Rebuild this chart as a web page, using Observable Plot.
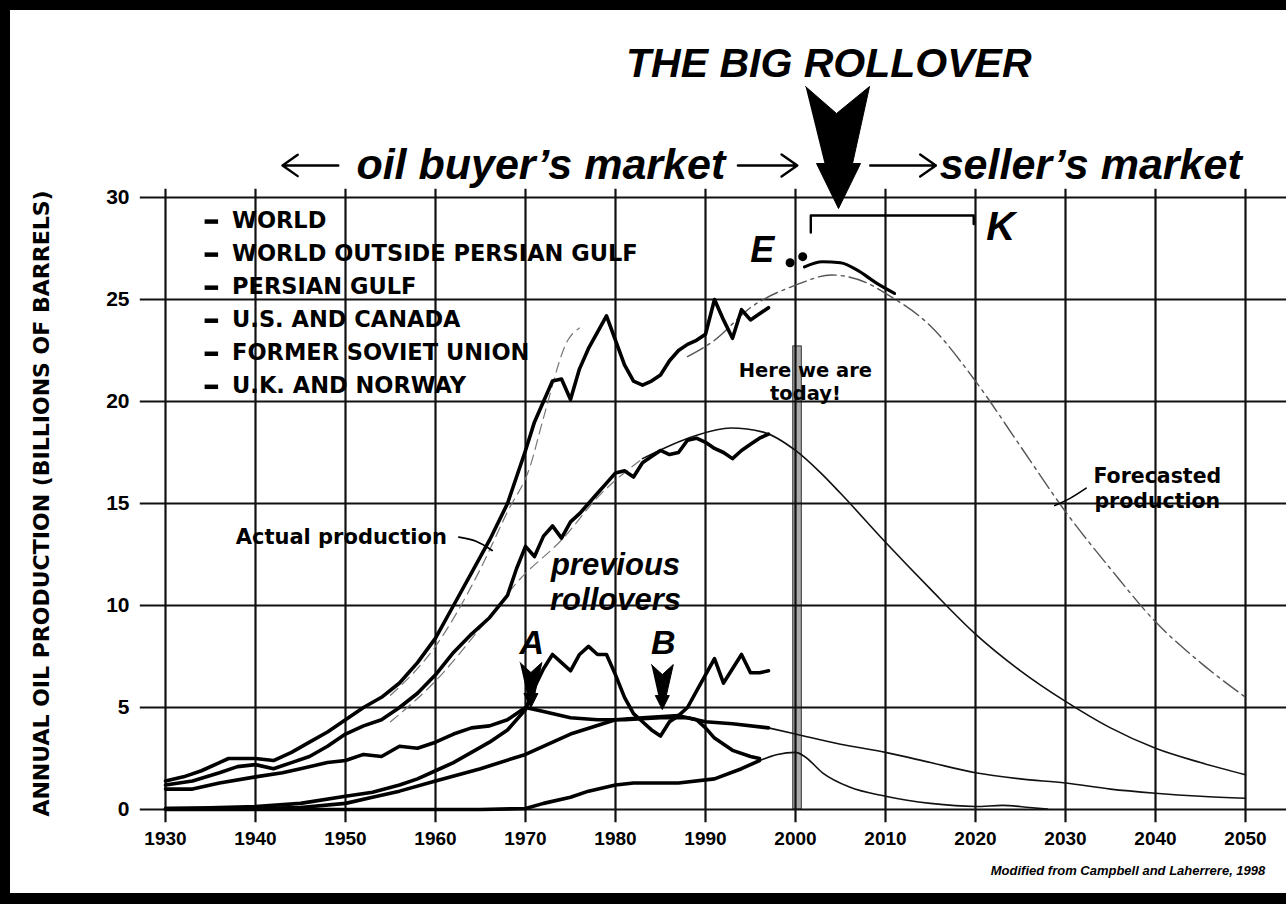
<!DOCTYPE html>
<html><head><meta charset="utf-8">
<script src="https://cdn.jsdelivr.net/npm/d3@7"></script>
<script src="https://cdn.jsdelivr.net/npm/@observablehq/plot@0.6"></script>
<style>
html,body{margin:0;padding:0;background:#fff;}
#frame{position:relative;width:1286px;height:904px;box-sizing:border-box;border-top:10px solid #000;border-left:10px solid #000;border-bottom:11px solid #000;overflow:hidden;background:#fff;}
#frame svg{display:block;}
</style></head><body><div id="frame"></div>
<script>
// ---------- data ----------
const xTicks = [1930,1940,1950,1960,1970,1980,1990,2000,2010,2020,2030,2040,2050];
const yTicks = [0,5,10,15,20,25,30];
const legendLabels = ["WORLD","WORLD OUTSIDE PERSIAN GULF","PERSIAN GULF","U.S. AND CANADA","FORMER SOVIET UNION","U.K. AND NORWAY"];

// actual production (billions of barrels per year)
const world = [[1930,1.4],[1932,1.6],[1934,1.9],[1936,2.3],[1937,2.5],[1940,2.5],[1942,2.4],[1944,2.8],[1946,3.3],[1948,3.8],[1950,4.4],[1952,5.0],[1954,5.5],[1956,6.2],[1958,7.2],[1960,8.4],[1962,10.0],[1964,11.6],[1966,13.2],[1968,15.0],[1970,17.6],[1971,19.0],[1972,20.0],[1973,21.0],[1974,21.1],[1975,20.1],[1976,21.6],[1977,22.6],[1978,23.4],[1979,24.2],[1980,23.0],[1981,21.8],[1982,21.0],[1983,20.8],[1984,21.0],[1985,21.3],[1986,22.0],[1987,22.5],[1988,22.8],[1989,23.0],[1990,23.3],[1991,25.0],[1992,24.0],[1993,23.1],[1994,24.5],[1995,24.0],[1996,24.3],[1997,24.6]];
const worldOutsideGulf = [[1930,1.2],[1933,1.4],[1936,1.8],[1938,2.1],[1940,2.2],[1942,2.0],[1944,2.3],[1946,2.6],[1948,3.1],[1950,3.7],[1952,4.1],[1954,4.4],[1956,5.0],[1958,5.7],[1960,6.6],[1962,7.7],[1964,8.6],[1966,9.4],[1968,10.5],[1969,11.8],[1970,12.9],[1971,12.4],[1972,13.4],[1973,13.9],[1974,13.3],[1975,14.1],[1976,14.5],[1977,15.0],[1978,15.5],[1979,16.0],[1980,16.5],[1981,16.6],[1982,16.3],[1983,17.0],[1984,17.3],[1985,17.6],[1986,17.4],[1987,17.5],[1988,18.1],[1989,18.2],[1990,18.0],[1991,17.7],[1992,17.5],[1993,17.2],[1994,17.6],[1995,17.9],[1996,18.2],[1997,18.4]];
const persianGulf = [[1930,0.05],[1935,0.08],[1940,0.15],[1945,0.3],[1950,0.65],[1953,0.85],[1956,1.2],[1958,1.5],[1960,1.9],[1962,2.3],[1964,2.8],[1966,3.3],[1968,3.9],[1970,4.9],[1971,6.0],[1972,6.9],[1973,7.6],[1974,7.2],[1975,6.8],[1976,7.6],[1977,8.0],[1978,7.6],[1979,7.6],[1980,6.6],[1981,5.5],[1982,4.7],[1983,4.3],[1984,3.9],[1985,3.6],[1986,4.3],[1987,4.6],[1988,5.0],[1989,5.8],[1990,6.6],[1991,7.4],[1992,6.2],[1993,6.9],[1994,7.6],[1995,6.7],[1996,6.7],[1997,6.8]];
const usCanada = [[1930,1.0],[1933,1.0],[1936,1.3],[1940,1.6],[1943,1.8],[1945,2.0],[1948,2.3],[1950,2.4],[1952,2.7],[1954,2.6],[1956,3.1],[1958,3.0],[1960,3.3],[1962,3.7],[1964,4.0],[1966,4.1],[1968,4.4],[1970,5.0],[1972,4.8],[1975,4.5],[1978,4.4],[1981,4.4],[1985,4.5],[1988,4.5],[1990,4.3],[1993,4.2],[1997,4.0]];
const formerSoviet = [[1930,0.05],[1940,0.05],[1945,0.1],[1950,0.3],[1953,0.6],[1956,0.9],[1960,1.4],[1965,2.0],[1970,2.7],[1975,3.7],[1980,4.4],[1983,4.5],[1987,4.6],[1989,4.4],[1990,4.0],[1991,3.5],[1993,2.9],[1995,2.6],[1996,2.5]];
const ukNorway = [[1930,0],[1965,0],[1970,0.05],[1972,0.3],[1975,0.6],[1977,0.9],[1980,1.2],[1982,1.3],[1987,1.3],[1991,1.5],[1994,2.0],[1996,2.4]];

// modelled / forecasted production
const worldFitEarly = [[1955,5.6],[1960,8.0],[1965,11.8],[1968,14.6],[1970.5,16.8],[1972,19.2],[1974.7,23.0],[1976,23.6]];
const worldFit = [[1988,22.2],[1991,23.0],[1995,24.6],[2000,25.7],[2004,26.2],[2008,25.8],[2010,25.3],[2015,23.7],[2020,21.0],[2025,17.8],[2030,14.6],[2035,11.8],[2040,9.2],[2045,7.2],[2050,5.5]];
const worldForecast = [[2001,26.6],[2003,26.85],[2005,26.8],[2007,26.4],[2009,25.8],[2011,25.3]];
const worldOutsideGulfFitEarly = [[1955,4.3],[1960,6.3],[1965,8.9],[1969.4,11.3],[1974.2,13.3],[1978,15.3],[1983,17.2]];
const worldOutsideGulfForecast = [[1983,17.2],[1988.7,18.3],[1992.8,18.7],[1996.4,18.5],[2000,17.6],[2002.8,16.5],[2005,15.5],[2010,13.1],[2015,10.8],[2020,8.6],[2025,6.8],[2030,5.3],[2035,4.0],[2040,3.0],[2045,2.3],[2050,1.7]];
const usCanadaForecast = [[1997,4.0],[2000,3.7],[2005,3.2],[2010,2.8],[2015,2.3],[2020,1.8],[2025,1.5],[2030,1.3],[2035,1.0],[2040,0.8],[2045,0.65],[2050,0.55]];
const ukNorwayForecast = [[1996,2.4],[1998,2.7],[2000,2.8],[2001,2.6],[2003,1.8],[2006,1.1],[2010,0.65],[2015,0.3],[2020,0.15],[2023,0.2],[2026,0.1],[2028,0.02]];
const todayPoints = [[1999.4,26.8],[2000.8,27.1]];

// ---------- layout helpers ----------
const X = d => d[0], Y = d => d[1];
const PXX = 9, PXY = 20.4; // pixels per year / per billion barrels
function shape(tip, offs, id) { return offs.map(([dx, dy]) => ({x: tip[0] + dx / PXX, y: tip[1] + dy / PXY, id})); }
const bigArrowOffs = [[-33,122],[-2,95],[31,122],[14,45],[22,45],[0,0],[-22,45],[-14,45]];
const smallArrowOffs = [[-11,45],[0,35],[11,45],[4,14],[7,14],[0,0],[-7,14],[-4,14]];
const arrows = [
  ...shape([2004.78, 29.46], bigArrowOffs, "big"),
  ...shape([1970.6, 5.0], smallArrowOffs, "A"),
  ...shape([1985.2, 4.9], smallArrowOffs, "B")
];
const legendY = legendLabels.map((d, i) => 28.87 - i * 1.62);

const ARIAL = "Liberation Sans, Arial, sans-serif";
const DEJAVU = "DejaVu Sans, sans-serif";
const thick = {x: X, y: Y, stroke: "#000", strokeWidth: 3.6, strokeLinejoin: "round", strokeLinecap: "round"};
const thin = {x: X, y: Y, stroke: "#111", strokeWidth: 1.6, curve: "monotone-x"};
const faint = {x: X, y: Y, stroke: "#777", strokeWidth: 1.2, strokeDasharray: "10,6", curve: "monotone-x"};

const chart = Plot.plot({
  width: 1276, height: 883,
  marginLeft: 155, marginRight: 41, marginTop: 187, marginBottom: 84,
  x: {domain: [1930, 2050], label: null},
  y: {domain: [0, 30], label: null},
  style: {fontFamily: ARIAL, fontWeight: "bold", background: "#fff", color: "#000"},
  marks: [
    // "here we are today" band
    Plot.rect([0], {x1: 1999.75, x2: 2000.7, y1: 0, y2: 22.7, fill: "#aaa", stroke: "#333", strokeWidth: 1}),
    // grid
    Plot.ruleX(xTicks, {x: d => d, y1: -0.65, y2: 30.4, stroke: "#111", strokeWidth: 2.2}),
    Plot.ruleY(yTicks, {y: d => d, x1: 1927.2, x2: 2060, stroke: "#111", strokeWidth: 2.2}),
    Plot.axisX(xTicks, {tickSize: 0, tickPadding: 22, fontSize: 19, fontWeight: "bold", fontFamily: ARIAL, tickFormat: d => String(d), label: null}),
    Plot.axisY(yTicks, {anchor: "left", tickSize: 0, tickPadding: 36, fontSize: 21, fontWeight: "bold", fontFamily: ARIAL, tickFormat: d => String(d), label: null}),
    // thin model curves
    Plot.line(worldFitEarly, faint),
    Plot.line(worldOutsideGulfFitEarly, faint),
    Plot.line(worldFit, {x: X, y: Y, stroke: "#555", strokeWidth: 1.4, strokeDasharray: "18,5,3,5", curve: "monotone-x"}),
    Plot.line(worldOutsideGulfForecast, thin),
    Plot.line(usCanadaForecast, thin),
    Plot.line(ukNorwayForecast, thin),
    // actual production
    Plot.line(ukNorway, thick),
    Plot.line(formerSoviet, thick),
    Plot.line(usCanada, thick),
    Plot.line(persianGulf, thick),
    Plot.line(worldOutsideGulf, thick),
    Plot.line(world, thick),
    Plot.line(worldForecast, {...thick, strokeWidth: 3.2, curve: "monotone-x"}),
    Plot.dot(todayPoints, {x: X, y: Y, r: 4.5, fill: "#000"}),
    // arrows
    Plot.line(arrows, {x: "x", y: "y", z: "id", fill: "#000", stroke: "#000", strokeWidth: 1, strokeLinejoin: "miter"}),
    // K bracket
    Plot.line([[2001.7, 28.28], [2001.7, 29.12], [2019.8, 29.12], [2019.8, 28.7]], {x: X, y: Y, stroke: "#000", strokeWidth: 2.4}),
    // market arrows
    Plot.arrow([0], {x1: 1949.2, y1: 31.57, x2: 1943.0, y2: 31.57, stroke: "#000", strokeWidth: 2.4, headLength: 12, headAngle: 70}),
    Plot.arrow([0], {x1: 1993.6, y1: 31.57, x2: 2000.2, y2: 31.57, stroke: "#000", strokeWidth: 2.4, headLength: 12, headAngle: 70}),
    Plot.arrow([0], {x1: 2008.3, y1: 31.57, x2: 2015.6, y2: 31.57, stroke: "#000", strokeWidth: 2.4, headLength: 12, headAngle: 70}),
    // pointers
    Plot.line([[1962.6, 13.35], [1964.5, 13.15], [1966.3, 12.7]], {x: X, y: Y, stroke: "#000", strokeWidth: 1.8, curve: "natural"}),
    Plot.line([[2028.8, 14.9], [2030.5, 15.25], [2032.3, 15.75]], {x: X, y: Y, stroke: "#000", strokeWidth: 1.6, curve: "natural"}),
    // legend
    Plot.ruleY(legendLabels, {y: (d, i) => legendY[i] - 0.05, x1: 1934.4, x2: 1935.9, stroke: "#000", strokeWidth: 4.5}),
    Plot.text(legendLabels, {x: 1937.4, y: (d, i) => legendY[i], text: d => d, textAnchor: "start", fontSize: 22.5, fontWeight: "bold", fontFamily: DEJAVU}),
    // texts
    Plot.text(["THE BIG ROLLOVER"], {x: 2003.7, y: 36.57, text: d => d, fontSize: 41, fontStyle: "italic", fontWeight: "bold", fontFamily: ARIAL}),
    Plot.text(["oil buyer\u2019s market"], {x: 1971.7, y: 31.57, text: d => d, fontSize: 43, fontStyle: "italic", fontWeight: "bold", fontFamily: ARIAL}),
    Plot.text(["seller\u2019s market"], {x: 2032.8, y: 31.57, text: d => d, fontSize: 43, fontStyle: "italic", fontWeight: "bold", fontFamily: ARIAL}),
    Plot.text(["K"], {x: 2022.8, y: 28.53, text: d => d, fontSize: 40, fontStyle: "italic", fontWeight: "bold", fontFamily: ARIAL}),
    Plot.text(["E"], {x: 1996.3, y: 27.4, text: d => d, fontSize: 36, fontStyle: "italic", fontWeight: "bold", fontFamily: ARIAL}),
    Plot.text(["A"], {x: 1970.7, y: 8.15, text: d => d, fontSize: 34, fontStyle: "italic", fontWeight: "bold", fontFamily: ARIAL}),
    Plot.text(["B"], {x: 1985.3, y: 8.15, text: d => d, fontSize: 34, fontStyle: "italic", fontWeight: "bold", fontFamily: ARIAL}),
    Plot.text(["previous\nrollovers"], {x: 1980.0, y: 11.2, text: d => d, lineHeight: 1.13, fontSize: 31, fontStyle: "italic", fontWeight: "bold", fontFamily: ARIAL}),
    Plot.text(["Actual production"], {x: 1937.8, y: 13.33, text: d => d, textAnchor: "start", fontSize: 21, fontWeight: "bold", fontFamily: DEJAVU}),
    Plot.text(["Here we are\ntoday!"], {x: 2001.1, y: 21.0, text: d => d, lineHeight: 1.2, fontSize: 19.5, fontWeight: "bold", fontFamily: DEJAVU}),
    Plot.text(["Forecasted\nproduction"], {x: 2040.2, y: 15.77, text: d => d, lineHeight: 1.2, fontSize: 20.5, fontWeight: "bold", fontFamily: DEJAVU}),
    Plot.text(["ANNUAL OIL PRODUCTION (BILLIONS OF BARRELS)"], {x: 1916.3, y: 15, text: d => d, rotate: -90, fontSize: 22, fontWeight: "bold", fontFamily: DEJAVU}),
    Plot.text(["Modified from Campbell and Laherrere, 1998"], {x: 2052.2, y: -3.0, text: d => d, textAnchor: "end", fontSize: 13, fontStyle: "italic", fontWeight: "bold", fontFamily: ARIAL})
  ]
});
document.getElementById("frame").appendChild(chart);
</script></body></html>
